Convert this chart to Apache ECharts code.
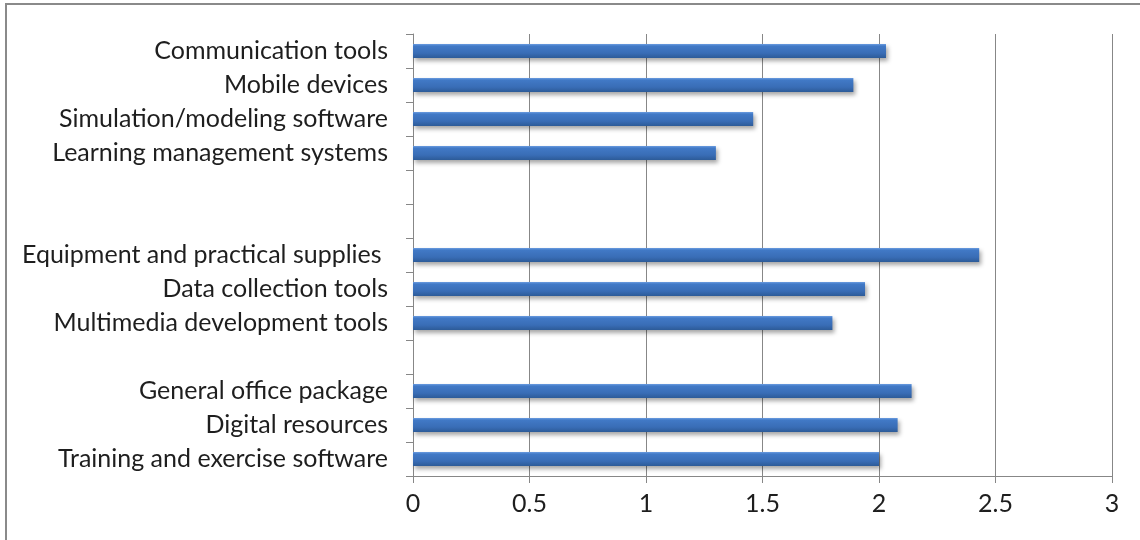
<!DOCTYPE html>
<html>
<head>
<meta charset="utf-8">
<script src="https://cdn.jsdelivr.net/npm/echarts@6/dist/echarts.min.js"></script>
<style>
  html, body { margin: 0; padding: 0; background: #ffffff; }
  #chart { width: 1140px; height: 540px; }
</style>
</head>
<body>
<div id="chart"></div>
<script>
// Tool groups, listed top to bottom; empty slots separate the groups.
const categories = [
  'Communication tools',
  'Mobile devices',
  'Simulation/modeling software',
  'Learning management systems',
  ' ',
  '  ',
  'Equipment and practical supplies ',
  'Data collection tools',
  'Multimedia development tools',
  '   ',
  'General office package',
  'Digital resources',
  'Training and exercise software'
];
const values = [2.03, 1.89, 1.46, 1.30, null, null, 2.43, 1.94, 1.80, null, 2.14, 2.08, 2.00];
const xTicks = { min: 0, max: 3, step: 0.5 };

const gridGrey = '#878787';
const textColor = '#1e1e1e';
const fontFamily = 'Lato, "Open Sans", sans-serif';

const chart = echarts.init(document.getElementById('chart'), null, { renderer: 'canvas' });

chart.setOption({
  animation: false,
  backgroundColor: '#ffffff',
  graphic: [{
    type: 'rect',
    shape: { x: 6, y: 4, width: 1300, height: 700 },
    style: { fill: 'none', stroke: '#8a8a8a', lineWidth: 2 },
    silent: true
  }],
  grid: { left: 413, right: 28, top: 34, bottom: 64, containLabel: false },
  xAxis: {
    type: 'value',
    min: xTicks.min,
    max: xTicks.max,
    interval: xTicks.step,
    axisLine: { show: true, lineStyle: { color: gridGrey, width: 1 } },
    axisTick: { show: true, length: 7, lineStyle: { color: gridGrey } },
    splitLine: { show: true, lineStyle: { color: gridGrey, width: 1 } },
    axisLabel: { color: textColor, fontSize: 25, fontFamily: fontFamily, margin: 15 }
  },
  yAxis: {
    type: 'category',
    inverse: true,
    data: categories,
    axisLine: { show: true, lineStyle: { color: gridGrey, width: 1 } },
    axisTick: { show: true, length: 7, lineStyle: { color: gridGrey } },
    axisLabel: { color: textColor, fontSize: 25, fontFamily: fontFamily, margin: 25, interval: 0 },
    splitLine: { show: false }
  },
  series: [{
    type: 'bar',
    data: values,
    barWidth: 14,
    itemStyle: {
      color: new echarts.graphic.LinearGradient(0, 0, 0, 1, [
        { offset: 0, color: '#6a9ce0' },
        { offset: 0.15, color: '#4179c6' },
        { offset: 0.65, color: '#396db6' },
        { offset: 1, color: '#2d5b98' }
      ]),
      shadowColor: 'rgba(0,0,0,0.35)',
      shadowBlur: 4,
      shadowOffsetX: 2,
      shadowOffsetY: 3
    }
  }]
});
</script>
</body>
</html>
